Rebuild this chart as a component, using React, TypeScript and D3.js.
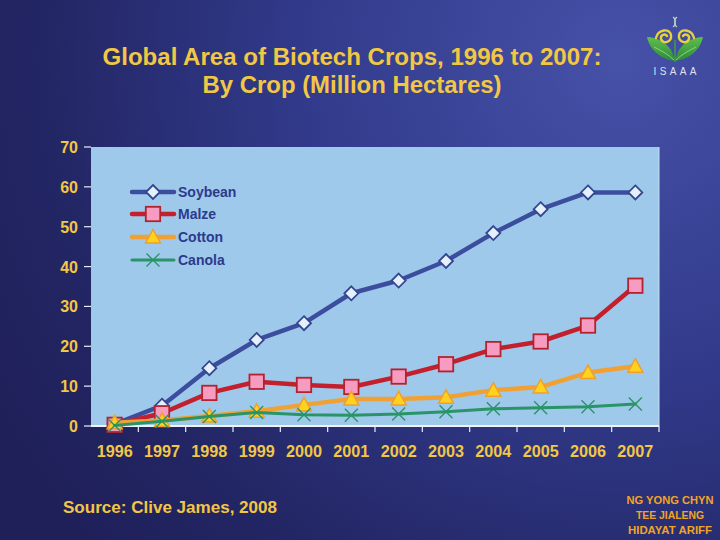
import React from "react";
import * as d3 from "d3";

const years = ["1996","1997","1998","1999","2000","2001","2002","2003","2004","2005","2006","2007"];
const soybean = [0.5, 5.1, 14.5, 21.6, 25.8, 33.3, 36.5, 41.4, 48.4, 54.4, 58.6, 58.6];
const maize = [0.3, 3.2, 8.3, 11.1, 10.3, 9.8, 12.4, 15.5, 19.3, 21.2, 25.2, 35.2];
const cotton = [0.8, 1.4, 2.5, 3.7, 5.3, 6.8, 6.8, 7.2, 9.0, 9.8, 13.4, 15.0];
const canola = [0.1, 1.2, 2.4, 3.4, 2.8, 2.7, 3.0, 3.6, 4.3, 4.6, 4.8, 5.5];
const yTicks = [0, 10, 20, 30, 40, 50, 60, 70];
const seriesNames = ["Soybean", "Malze", "Cotton", "Canola"];

const W = 720, H = 540;
const plot = { left: 91, right: 659, top: 147, bottom: 426 };

const x = d3.scaleBand<string>().domain(years).range([plot.left, plot.right]);
const y = d3.scaleLinear().domain([0, 70]).range([plot.bottom, plot.top]);
const cx = (yr: string) => (x(yr) as number) + x.bandwidth() / 2;

const YELLOW = "#f2c744";
const FONT = "'Liberation Sans', Arial, sans-serif";

type Kind = "diamond" | "square" | "triangle" | "x";
const styles: { line: string; width: number; kind: Kind; fill: string; stroke: string }[] = [
  { line: "#3c4d9e", width: 4.5, kind: "diamond", fill: "#e4f0fb", stroke: "#34468f" },
  { line: "#c41f2c", width: 4.5, kind: "square", fill: "#f59cc0", stroke: "#b2232f" },
  { line: "#f1a133", width: 4.5, kind: "triangle", fill: "#ffd21f", stroke: "#f0a02a" },
  { line: "#2a9468", width: 3, kind: "x", fill: "none", stroke: "#2a9468" },
];
const data = [soybean, maize, cotton, canola];

function Marker({ kind, px, py, fill, stroke }: { kind: Kind; px: number; py: number; fill: string; stroke: string }) {
  if (kind === "diamond") {
    const s = 7;
    return <path d={`M${px},${py - s}L${px + s},${py}L${px},${py + s}L${px - s},${py}Z`} fill={fill} stroke={stroke} strokeWidth={1.8} />;
  }
  if (kind === "square") {
    const s = 7.2;
    return <rect x={px - s} y={py - s} width={2 * s} height={2 * s} fill={fill} stroke={stroke} strokeWidth={1.8} />;
  }
  if (kind === "triangle") {
    const s = 7.5;
    return <path d={`M${px},${py - s}L${px + s},${py + s * 0.8}L${px - s},${py + s * 0.8}Z`} fill={fill} stroke={stroke} strokeWidth={1.5} />;
  }
  const s = 6.5;
  return <path d={`M${px - s},${py - s}L${px + s},${py + s}M${px + s},${py - s}L${px - s},${py + s}`} stroke={stroke} strokeWidth={1.4} fill="none" />;
}

export default function App() {
  const line = d3.line<number>().x((_, i) => cx(years[i])).y((v) => y(v));
  const legendY = [192, 214, 237, 260];
  return (
    <svg width={W} height={H} style={{ position: "absolute", left: 0, top: 0 }} fontFamily={FONT}>
      <defs>
        <radialGradient id="bg" cx="620" cy="60" r="720" gradientUnits="userSpaceOnUse">
          <stop offset="0" stopColor="#4651a8" />
          <stop offset="0.45" stopColor="#313a8a" />
          <stop offset="0.8" stopColor="#232664" />
          <stop offset="1" stopColor="#1f205a" />
        </radialGradient>
        <linearGradient id="leaf" x1="0" y1="0" x2="0" y2="1">
          <stop offset="0" stopColor="#5fbf4a" />
          <stop offset="1" stopColor="#2a8a3c" />
        </linearGradient>
      </defs>
      <rect width={W} height={H} fill="url(#bg)" />

      {/* Title */}
      <text x={352} y={65} textAnchor="middle" fill={YELLOW} fontSize={23} fontWeight="bold" textLength={499} lengthAdjust="spacingAndGlyphs">
        Global Area of Biotech Crops, 1996 to 2007:
      </text>
      <text x={352} y={93} textAnchor="middle" fill={YELLOW} fontSize={23} fontWeight="bold" textLength={299} lengthAdjust="spacingAndGlyphs">
        By Crop (Million Hectares)
      </text>

      {/* ISAAA logo */}
      <g>
        <path d="M675,61 C664,60 650,52 647,37 C656,37 666,42 671,50 C673,54 674,57 675,61Z" fill="url(#leaf)" />
        <path d="M675,61 C686,60 700,52 703,37 C694,37 684,42 679,50 C677,54 676,57 675,61Z" fill="url(#leaf)" />
        <path d="M654,47 C660,50 668,54 674,60" stroke="#a8dc8a" strokeWidth={0.8} fill="none" />
        <path d="M696,47 C690,50 682,54 676,60" stroke="#a8dc8a" strokeWidth={0.8} fill="none" />
        <path d="M675,62 L675,40" stroke="#3f9a44" strokeWidth={1.6} />
        <path d="M656,38 C658,29 670,28 671,35 C672,42 663,45 661,39 C660,35 665,33 667,36" fill="none" stroke="#e6d23a" strokeWidth={2.4} strokeLinecap="round" />
        <path d="M694,38 C692,29 680,28 679,35 C678,42 687,45 689,39 C690,35 685,33 683,36" fill="none" stroke="#e6d23a" strokeWidth={2.4} strokeLinecap="round" />
        <path d="M673,17 C678,20 672,24 677,27" stroke="#b8d8c0" strokeWidth={1.2} fill="none" />
        <path d="M677,17 C672,20 678,24 673,27" stroke="#b8d8c0" strokeWidth={1.2} fill="none" />
        <text x={675} y={75} textAnchor="middle" fill="#dbe4f2" fontSize={10} textLength={43} lengthAdjust="spacing">ISAAA</text>
      </g>

      {/* Plot background */}
      <rect x={plot.left} y={plot.top} width={plot.right - plot.left} height={plot.bottom - plot.top} fill="#9ec9eb" />
      <line x1={plot.right} x2={plot.right} y1={plot.top} y2={plot.bottom} stroke="#c8def2" strokeWidth={1} />

      {/* Y axis */}
      {yTicks.map((t) => (
        <g key={t}>
          <line x1={plot.left - 7} x2={plot.left} y1={y(t)} y2={y(t)} stroke="#e8eef8" strokeWidth={1.2} />
          <text x={78} y={y(t) + 6} textAnchor="end" fill={YELLOW} fontSize={16} fontWeight="bold">{t}</text>
        </g>
      ))}

      {/* X axis */}
      <line x1={plot.left} x2={plot.right} y1={plot.bottom} y2={plot.bottom} stroke="#f0f4fa" strokeWidth={2} />
      {years.map((yr) => (
        <line key={"tk" + yr} x1={(x(yr) as number) + x.bandwidth()} x2={(x(yr) as number) + x.bandwidth()} y1={plot.bottom} y2={plot.bottom + 6} stroke="#e8eef8" strokeWidth={1.2} />
      ))}
      {years.map((yr) => (
        <text key={"xl" + yr} x={cx(yr)} y={457} textAnchor="middle" fill={YELLOW} fontSize={16} fontWeight="bold" textLength={36} lengthAdjust="spacingAndGlyphs">{yr}</text>
      ))}

      {/* Series */}
      {data.map((vals, si) => {
        const st = styles[si];
        return (
          <g key={seriesNames[si]}>
            <path d={line(vals) as string} fill="none" stroke={st.line} strokeWidth={st.width} strokeLinejoin="round" strokeLinecap="round" />
            {vals.map((v, i) => (
              <Marker key={i} kind={st.kind} px={cx(years[i])} py={y(v)} fill={st.fill} stroke={st.stroke} />
            ))}
          </g>
        );
      })}

      {/* Legend */}
      {seriesNames.map((n, i) => {
        const st = styles[i];
        const ly = legendY[i];
        return (
          <g key={"lg" + n}>
            <line x1={132} x2={174} y1={ly} y2={ly} stroke={st.line} strokeWidth={st.width} strokeLinecap="round" />
            <Marker kind={st.kind} px={153} py={ly} fill={st.fill} stroke={st.stroke} />
            <text x={178} y={ly + 5} fill="#2c3a8c" fontSize={14} fontWeight="bold">{n}</text>
          </g>
        );
      })}

      {/* Source */}
      <text x={63} y={513} fill={YELLOW} fontSize={17} fontWeight="bold" textLength={214} lengthAdjust="spacingAndGlyphs">
        Source: Clive James, 2008
      </text>

      {/* Credits */}
      {["NG YONG CHYN", "TEE JIALENG", "HIDAYAT ARIFF"].map((s, i) => (
        <text key={s} x={670} y={504 + i * 15} textAnchor="middle" fill="#f2a424" fontSize={11} fontWeight="bold" textLength={[87, 68, 84][i]} lengthAdjust="spacingAndGlyphs">
          {s}
        </text>
      ))}
    </svg>
  );
}
